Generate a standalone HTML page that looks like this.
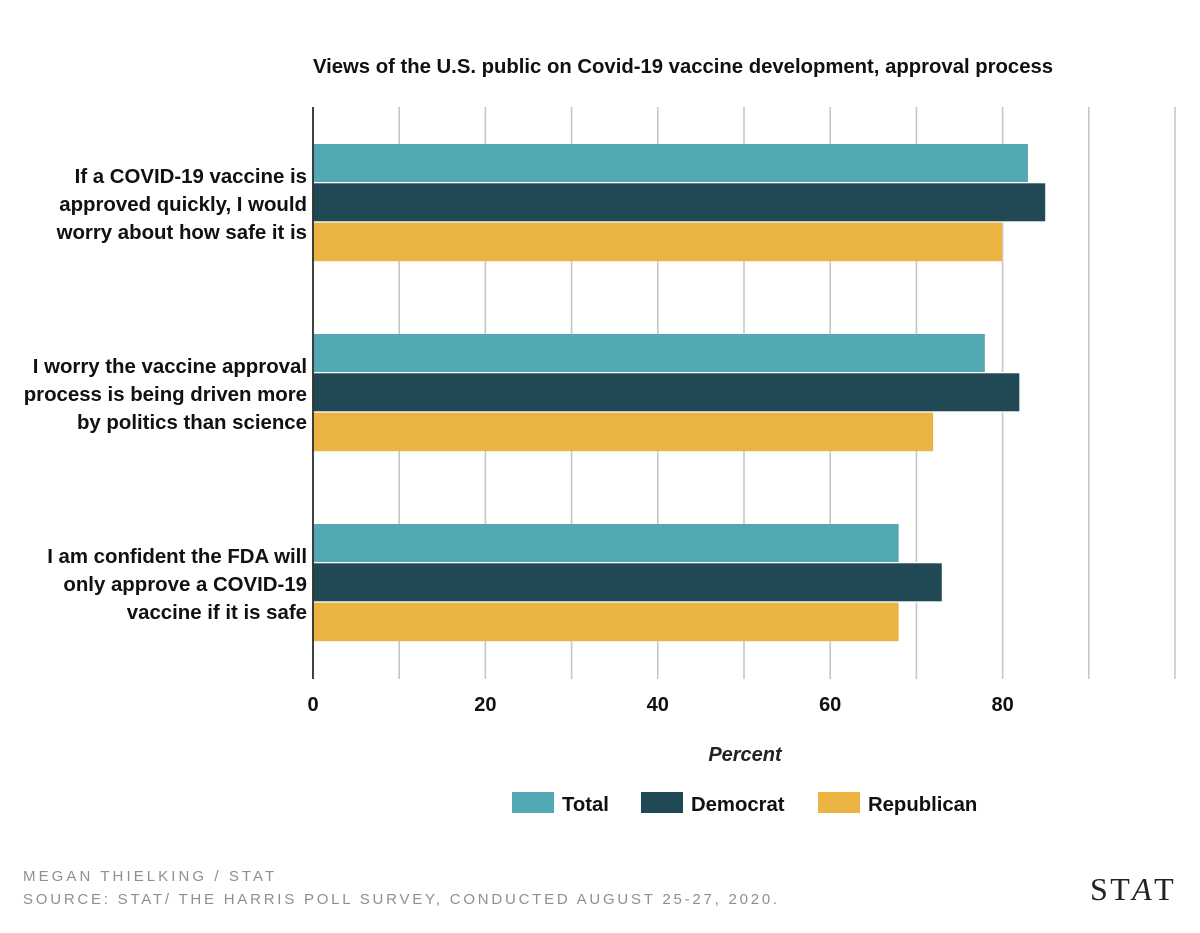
<!DOCTYPE html>
<html lang="en">
<head>
<meta charset="utf-8">
<title>Views of the U.S. public on Covid-19 vaccine development</title>
<style>
html,body{margin:0;padding:0;background:#fff;}
body{width:1200px;height:933px;overflow:hidden;}
svg{display:block;font-family:"Liberation Sans",sans-serif;}
</style>
</head>
<body>
<svg id="chart" width="1200" height="933" viewBox="0 0 1200 933" xmlns="http://www.w3.org/2000/svg">
<rect x="0" y="0" width="1200" height="933" fill="#ffffff"/>
<text x="683" y="73" text-anchor="middle" font-size="20.3" font-weight="700" fill="#111">Views of the U.S. public on Covid-19 vaccine development, approval process</text>
<g id="grid"></g>
<g id="bars"></g>
<g id="cats"></g>
<g id="ticks"></g>
<line x1="313" y1="107" x2="313" y2="679" stroke="#111" stroke-width="1.6"/>
<text x="745" y="761" text-anchor="middle" font-size="20" font-weight="700" font-style="italic" fill="#222">Percent</text>
<g id="legend"></g>
<text x="23" y="881" font-size="15" letter-spacing="3.07" fill="#8f8f8f">MEGAN THIELKING / STAT</text>
<text x="23" y="904" font-size="15" letter-spacing="2.77" fill="#8f8f8f">SOURCE: STAT/ THE HARRIS POLL SURVEY, CONDUCTED AUGUST 25-27, 2020.</text>
<text x="1090" y="900" font-family="'Liberation Serif',serif" font-size="32" letter-spacing="2.4" fill="#222">ST<tspan font-style="italic">A</tspan>T</text>
</svg>
<script>
const categories = [
  ["If a COVID-19 vaccine is", "approved quickly, I would", "worry about how safe it is"],
  ["I worry the vaccine approval", "process is being driven more", "by politics than science"],
  ["I am confident the FDA will", "only approve a COVID-19", "vaccine if it is safe"]
];
const seriesNames = ["Total", "Democrat", "Republican"];
const seriesColors = ["#52a9b4", "#214855", "#ebb341"];
const totalValues = [83, 78, 68];
const democratValues = [85, 82, 73];
const republicanValues = [80, 72, 68];
const tickLabels = [0, 20, 40, 60, 80];
const gridValues = [10, 20, 30, 40, 50, 60, 70, 80, 90, 100];

const NS = "http://www.w3.org/2000/svg";
const allSeries = [totalValues, democratValues, republicanValues];
const xScale = v => 313 + v * 8.62;
const bandTop = i => 144 + i * 190;
const barTop = j => j * 39.3;
const barHeight = 38;

function make(tag, attrs, parent, text) {
  const el = document.createElementNS(NS, tag);
  for (const k in attrs) el.setAttribute(k, attrs[k]);
  if (text !== undefined) el.textContent = text;
  parent.appendChild(el);
  return el;
}

const gridG = document.getElementById("grid");
gridValues.forEach(v => {
  const l = make("line", {x1: xScale(v), x2: xScale(v), y1: 107, y2: 679, stroke: "#c6c6c6", "stroke-width": 1.6}, gridG);
  
  
});

const barsG = document.getElementById("bars");
categories.forEach((cat, i) => {
  allSeries.forEach((vals, j) => {
    const w = xScale(vals[i]) - xScale(0) - 1.3;
    const y = bandTop(i) + barTop(j);
    const backing = make("rect", {x: xScale(0) + 0.8, y: y - (j > 0 ? 1.4 : 0), width: w, height: barHeight + (j > 0 ? 1.4 : 0) + (j < 2 ? 1.4 : 0), fill: "#ffffff"}, barsG);
    
    
  });
  allSeries.forEach((vals, j) => {
    const w = xScale(vals[i]) - xScale(0) - 1.3;
    const y = bandTop(i) + barTop(j);
    const r = make("rect", {x: xScale(0) + 0.8, y: y, width: w, height: barHeight + (j === 2 ? 0.6 : 0), fill: seriesColors[j]}, barsG);
    
    
  });
});

const catsG = document.getElementById("cats");
categories.forEach((cat, i) => {
  cat.forEach((line, k) => {
    const t = make("text", {x: 307, y: bandTop(i) + 39 + k * 28, "text-anchor": "end", "font-size": 20.4, "font-weight": 700, fill: "#111"}, catsG, line);
    
    
  });
});

const ticksG = document.getElementById("ticks");
tickLabels.forEach(v => {
  const t = make("text", {x: xScale(v), y: 711, "text-anchor": "middle", "font-size": 20, "font-weight": 700, fill: "#111"}, ticksG, String(v));
  
  
});

const legendG = document.getElementById("legend");
const legendX = [512, 641, 818];
seriesNames.forEach((name, j) => {
  const s = make("rect", {x: legendX[j], y: 792, width: 42, height: 21, fill: seriesColors[j]}, legendG);
  
  
  const t = make("text", {x: legendX[j] + 50, y: 811, "font-size": 20.3, "font-weight": 700, fill: "#111"}, legendG, name);
  
  
});
</script>
</body>
</html>
